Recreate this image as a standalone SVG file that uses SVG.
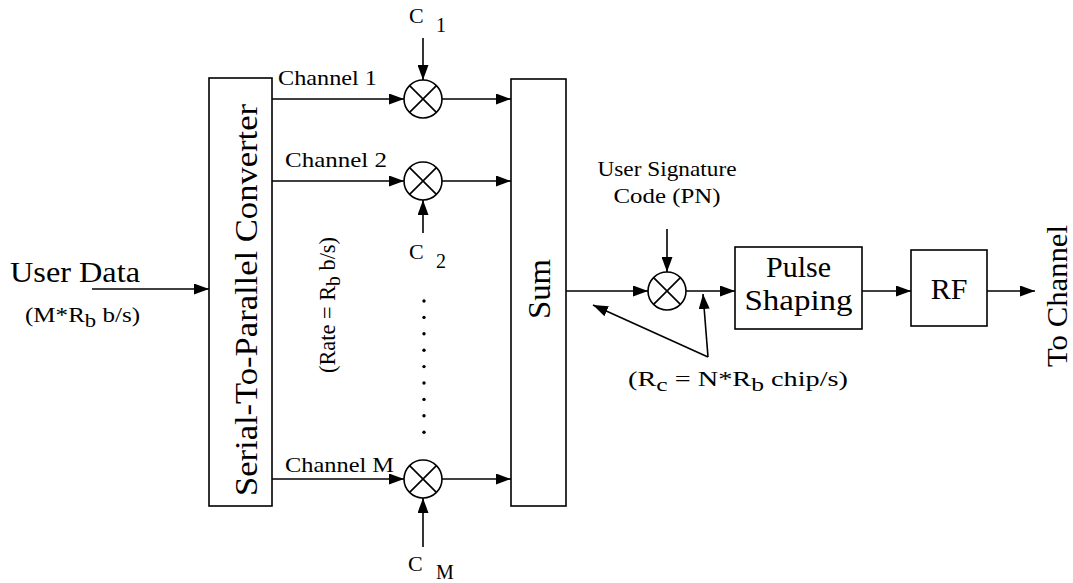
<svg xmlns="http://www.w3.org/2000/svg" width="1073" height="583" viewBox="0 0 1073 583">
<style>
text{font-family:"Liberation Serif","Times New Roman",serif;fill:#000}
.box{fill:#fff;stroke:#000;stroke-width:1.6}
.ln{fill:none;stroke:#000;stroke-width:1.6}
.arr{fill:none;stroke:#000;stroke-width:1.6;marker-end:url(#ah)}
.mul{fill:#fff;stroke:#000;stroke-width:1.6}
.sm{font-size:21px}
.big{font-size:30px}
</style>
<defs>
<marker id="ah" markerUnits="userSpaceOnUse" markerWidth="15" markerHeight="11" refX="15" refY="5.5" orient="auto">
<path d="M0,0 L15,5.5 L0,11 z" fill="#000"/>
</marker>
<g id="mx">
<circle cx="0" cy="0" r="19" class="mul"/>
<path d="M-13.4,-13.4 L13.4,13.4 M13.4,-13.4 L-13.4,13.4" class="ln"/>
</g>
</defs>

<g id="connectors">
<path class="arr" d="M92,289 L209,289"/>
<path class="arr" d="M272,99 L404,99"/>
<path class="arr" d="M442,99 L511,99"/>
<path class="arr" d="M272,181 L404,181"/>
<path class="arr" d="M442,181 L511,181"/>
<path class="arr" d="M272,479 L404,479"/>
<path class="arr" d="M442,479 L511,479"/>
<path class="arr" d="M423,38 L423,80"/>
<path class="arr" d="M423,233 L423,200"/>
<path class="arr" d="M423,547 L423,498"/>
<path class="arr" d="M566,291 L648,291"/>
<path class="arr" d="M686,291 L735,291"/>
<path class="arr" d="M667,229 L667,272"/>
<path class="arr" d="M862,291 L911,291"/>
<path class="arr" d="M987,291 L1035,291"/>
<path class="arr" d="M708,357 L593,305"/>
<path class="arr" d="M708,357 L703,294"/>
</g>

<g id="input">
<text class="big" x="10" y="282" textLength="130" lengthAdjust="spacingAndGlyphs">User Data</text>
<text class="sm" x="25" y="322" textLength="115" lengthAdjust="spacingAndGlyphs">(M*R<tspan baseline-shift="-25%" font-size="19">b</tspan> b/s)</text>
</g>

<g id="s2p">
<rect class="box" x="209" y="78" width="63" height="428"/>
<text font-size="32" text-anchor="middle" transform="translate(257,300) rotate(-90)" textLength="392" lengthAdjust="spacingAndGlyphs">Serial-To-Parallel Converter</text>
</g>

<g id="labels">
<text class="sm" x="278" y="85" textLength="99" lengthAdjust="spacingAndGlyphs">Channel 1</text>
<text class="sm" x="285" y="167" textLength="102" lengthAdjust="spacingAndGlyphs">Channel 2</text>
<text class="sm" x="285" y="472" textLength="109" lengthAdjust="spacingAndGlyphs">Channel M</text>
<text font-size="24" text-anchor="middle" transform="translate(335,305) rotate(-90)" textLength="136" lengthAdjust="spacingAndGlyphs">(Rate = R<tspan baseline-shift="-25%" font-size="21">b</tspan> b/s)</text>
</g>

<g id="mult1"><use href="#mx" x="423" y="99"/>
<text font-size="22" x="409" y="23">C</text><text font-size="20" x="436" y="32">1</text></g>
<g id="mult2"><use href="#mx" x="423" y="181"/>
<text font-size="22" x="409" y="259">C</text><text font-size="20" x="436" y="268">2</text></g>
<g id="multM"><use href="#mx" x="423" y="479"/>
<text font-size="22" x="408" y="571">C</text><text font-size="20" x="436" y="579">M</text></g>

<g id="dots" fill="#000">
<circle cx="424" cy="301" r="1.7"/><circle cx="424" cy="317.4" r="1.7"/><circle cx="424" cy="333.8" r="1.7"/>
<circle cx="424" cy="350.2" r="1.7"/><circle cx="424" cy="366.6" r="1.7"/><circle cx="424" cy="383" r="1.7"/>
<circle cx="424" cy="399.4" r="1.7"/><circle cx="424" cy="415.8" r="1.7"/><circle cx="424" cy="432.2" r="1.7"/>
</g>

<g id="sum">
<rect class="box" x="511" y="79" width="55" height="427"/>
<text font-size="32" text-anchor="middle" transform="translate(550,289) rotate(-90)" textLength="60" lengthAdjust="spacingAndGlyphs">Sum</text>
</g>

<g id="pnmult"><use href="#mx" x="667" y="291"/>
<text class="sm" x="667" y="176" text-anchor="middle" textLength="139" lengthAdjust="spacingAndGlyphs">User Signature</text>
<text class="sm" x="667" y="203" text-anchor="middle" textLength="107" lengthAdjust="spacingAndGlyphs">Code (PN)</text>
</g>

<g id="rc">
<text class="sm" x="628" y="386" textLength="220" lengthAdjust="spacingAndGlyphs">(R<tspan baseline-shift="-25%" font-size="19">c</tspan> = N*R<tspan baseline-shift="-25%" font-size="19">b</tspan> chip/s)</text>
</g>

<g id="pulse">
<rect class="box" x="735" y="247" width="127" height="82"/>
<text class="big" x="798.5" y="277" text-anchor="middle">Pulse</text>
<text class="big" x="798.5" y="310" text-anchor="middle" textLength="108" lengthAdjust="spacingAndGlyphs">Shaping</text>
</g>

<g id="rf">
<rect class="box" x="911" y="250" width="76" height="76"/>
<text class="big" x="949" y="299" text-anchor="middle">RF</text>
</g>

<g id="out">
<text class="big" text-anchor="middle" transform="translate(1067,296) rotate(-90)" textLength="142" lengthAdjust="spacingAndGlyphs">To Channel</text>
</g>
</svg>
